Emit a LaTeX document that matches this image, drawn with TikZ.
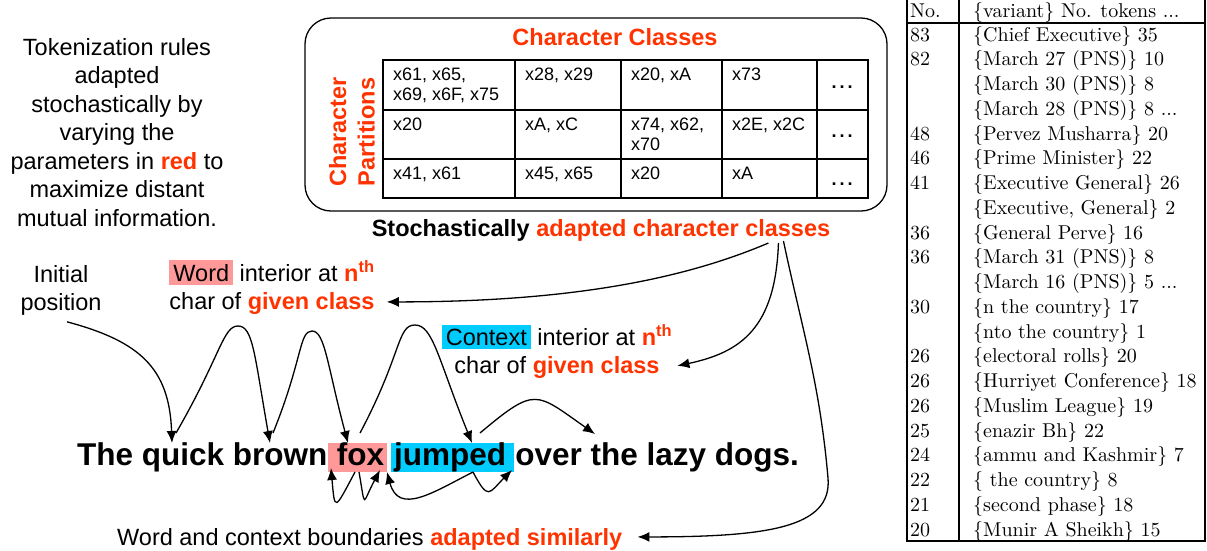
\documentclass[tikz,border=0pt]{standalone}
\usepackage{fontspec}
\newfontfamily\arial{Liberation Sans}
\newfontfamily\tabfont{lmroman10-regular}[Extension=.otf]
\usetikzlibrary{arrows.meta}

\definecolor{hot}{HTML}{FF3300}
\definecolor{wordpink}{HTML}{FF9999}
\definecolor{ctxcyan}{HTML}{00CCFF}

\newcommand{\hot}[1]{\textbf{\textcolor{hot}{#1}}}
\newcommand{\nth}{\hot{n\textsuperscript{th}}}
\newcommand{\hilite}[2]{{\setlength{\fboxsep}{4pt}\colorbox{#1}{#2}}}

\tikzset{
  lab/.style={font=\arial\fontsize{23.5}{28.5}\selectfont, inner sep=0pt, align=center},
  ccell/.style={font=\arial\fontsize{18}{20}\selectfont, inner sep=0pt, align=left, anchor=north west},
  sent/.style={font=\arial\fontsize{31.5}{36}\selectfont\bfseries, inner sep=0pt,
    anchor=base west, text height=22pt, text depth=7pt},
  varrow/.style={font=\tabfont\fontsize{20}{24}\selectfont, inner sep=0pt, anchor=base west},
  hop/.style={line width=1.3pt, -{Latex[length=12pt,width=10pt]}},
}

\begin{document}
\begin{tikzpicture}[x=1pt, y=1pt]
  \useasboundingbox (0,0) rectangle (1207,-550);

  % left explanation
  \node[lab, anchor=north] (rules) at (117,-38) {Tokenization rules\\adapted\\stochastically by\\varying the\\parameters in \hot{red} to\\maximize distant\\mutual information.};

  % character class box
  \draw[line width=1.3pt, rounded corners=26pt] (305,-18) rectangle (887,-211);
  \node[lab, anchor=base] (title) at (615,-45) {\hot{Character Classes}};
  \node[lab, rotate=90] (parts) at (352,-132) {\hot{Character}\\\hot{Partitions}};

  \draw[line width=2.6pt] (383,-60) rectangle (868,-198);
  \foreach \x in {515,621,722,817}
    \draw[line width=1.6pt] (\x,-60) -- (\x,-198);
  \foreach \y in {110,159}
    \draw[line width=1.6pt] (383,-\y) -- (868,-\y);

  \foreach \cx/\cy/\txt [count=\k] in {383/60/{x61, x65,\\x69, x6F, x75}, 515/60/{x28, x29},
      621/60/{x20, xA}, 722/60/x73, 383/110/x20, 515/110/{xA, xC}, 621/110/{x74, x62,\\x70},
      722/110/{x2E, x2C}, 383/159/{x41, x61}, 515/159/{x45, x65}, 621/159/x20, 722/159/xA}
    \node[ccell] (c\k) at (\cx+10,-\cy-8) {\txt};
  \foreach \cy [count=\k] in {88,137,185}
    \node[ccell, anchor=base] (dots\k) at (842,-\cy) {\textbf{.\,.\,.}};

  \node[lab, anchor=base] (stoch) at (601,-236) {\textbf{Stochastically \textcolor{hot}{adapted character classes}}};

  % variant table
  \draw[line width=1.2pt] (907,0) -- (907,-541) -- (1205,-541) -- (1205,0);
  \draw[line width=1.8pt] (959,0) -- (959,-541);
  \draw[line width=1.8pt] (907,-23) -- (1205,-23);
  \node[varrow] (hdnum) at (910,-17) {No.};
  \node[varrow] (hdvar) at (973,-17) {\{variant\} No. tokens ...};
  \foreach \tally/\variant [count=\i, evaluate=\i as \yy using -41-24.75*(\i-1)] in {
      83/{\{Chief Executive\} 35}, 82/{\{March 27 (PNS)\} 10}, {}/{\{March 30 (PNS)\} 8},
      {}/{\{March 28 (PNS)\} 8 ...}, 48/{\{Pervez Musharra\} 20}, 46/{\{Prime Minister\} 22},
      41/{\{Executive General\} 26}, {}/{\{Executive, General\} 2}, 36/{\{General Perve\} 16},
      36/{\{March 31 (PNS)\} 8}, {}/{\{March 16 (PNS)\} 5 ...}, 30/{\{n the country\} 17},
      {}/{\{nto the country\} 1}, 26/{\{electoral rolls\} 20}, 26/{\{Hurriyet Conference\} 18},
      26/{\{Muslim League\} 19}, 25/{\{enazir Bh\} 22}, 24/{\{ammu and Kashmir\} 7},
      22/{\{\ the country\} 8}, 21/{\{second phase\} 18}, 20/{\{Munir A Sheikh\} 15}} {
    \node[varrow] (num\i) at (910,\yy) {\tally};
    \node[varrow] (var\i) at (973,\yy) {\variant};
  }

  % labels around the sentence
  \node[lab, anchor=north] (ini) at (61,-265) {Initial\\position};
  \node[lab, anchor=north] (wlbl) at (272,-260) {\hilite{wordpink}{Word} interior at \nth\\char of \hot{given class}};
  \node[lab, anchor=north] (clbl) at (557,-324) {\hilite{ctxcyan}{Context} interior at \nth\\char of \hot{given class}};
  \node[lab, anchor=base west] (simil) at (117,-545) {Word and context boundaries \hot{adapted similarly}};

  % the sentence
  \node[sent] (s1) at (77,-465) {The quick brown};
  \node[sent, fill=wordpink] (fox) at (s1.base east) {\kern9pt fox\kern3pt};
  \node[sent, fill=ctxcyan] (jump) at ([xshift=3.5pt]fox.base east) {\kern3pt jumped\kern8pt};
  \node[sent] (s2) at ([xshift=1pt]jump.base east) {over the lazy dogs.};

  % hop points
  \coordinate (L1) at (172,-443);
  \coordinate (L2) at (270,-443);
  \coordinate (L3) at (348,-443);
  \coordinate (L4) at (472,-443);
  \coordinate (L5) at (595,-434);
  \coordinate (T2) at (176,-433);
  \coordinate (T3) at (273,-433);
  \coordinate (T4) at (360,-433);
  \coordinate (T5) at (480,-433);
  \coordinate (P2) at (238,-326);
  \coordinate (P3) at (312,-331);
  \coordinate (P4) at (415,-325);
  \coordinate (B1) at (355,-472);
  \coordinate (B2) at (359,-472);
  \coordinate (B3) at (473,-472);
  \coordinate (U1) at (331,-468);
  \coordinate (U2) at (380,-470);
  \coordinate (U3) at (387,-472);
  \coordinate (U4) at (512,-470);

  \draw[hop] ([xshift=6pt,yshift=-6pt]ini.south) to[out=-15, in=92, looseness=1.2] (L1);
  \draw[hop] (T2) to[out=60, in=180, out distance=90pt, in distance=15pt] (P2)
                  to[out=0, in=100, out distance=15pt, in distance=90pt] (L2);
  \draw[hop] (T3) to[out=68, in=180, out distance=80pt, in distance=13pt] (P3)
                  to[out=0, in=105, out distance=13pt, in distance=80pt] (L3);
  \draw[hop] (T4) to[out=62, in=180, out distance=90pt, in distance=18pt] (P4)
                  to[out=0, in=112, out distance=18pt, in distance=90pt] (L4);
  \draw[hop] (T5) to[out=40, in=145, distance=73pt] (L5);

  \draw[hop] (B1) to[out=-118, in=-85, distance=44pt] (U1);
  \draw[hop] (B2) to[out=-80, in=-118, distance=39pt] (U2);
  \draw[hop] (B3) to[out=-153, in=-75, distance=45pt] (U3);
  \draw[hop] (B3) to[out=-62, in=-135, distance=33pt] (U4);

  % from the adapted classes down to the labels
  \coordinate (fan1) at ([xshift=-62pt,yshift=-7pt]stoch.base east);
  \coordinate (fan2) at ([xshift=-52pt,yshift=-7pt]stoch.base east);
  \coordinate (fan3) at ([xshift=-47pt,yshift=-5pt]stoch.base east);
  \coordinate (bend) at (828,-478);
  \draw[hop] (fan1) to[out=-157, in=0, out distance=80pt, in distance=200pt] ([xshift=12pt,yshift=13pt]wlbl.south east);
  \draw[hop] (fan2) to[out=-92, in=12, out distance=85pt, in distance=65pt] ([xshift=5pt,yshift=13pt]clbl.south east);
  \draw[hop] (fan3) to[out=-78, in=95] (bend) to[out=-85, in=0, out distance=50pt, in distance=130pt] ([xshift=15pt,yshift=2pt]simil.east);
\end{tikzpicture}
\end{document}
